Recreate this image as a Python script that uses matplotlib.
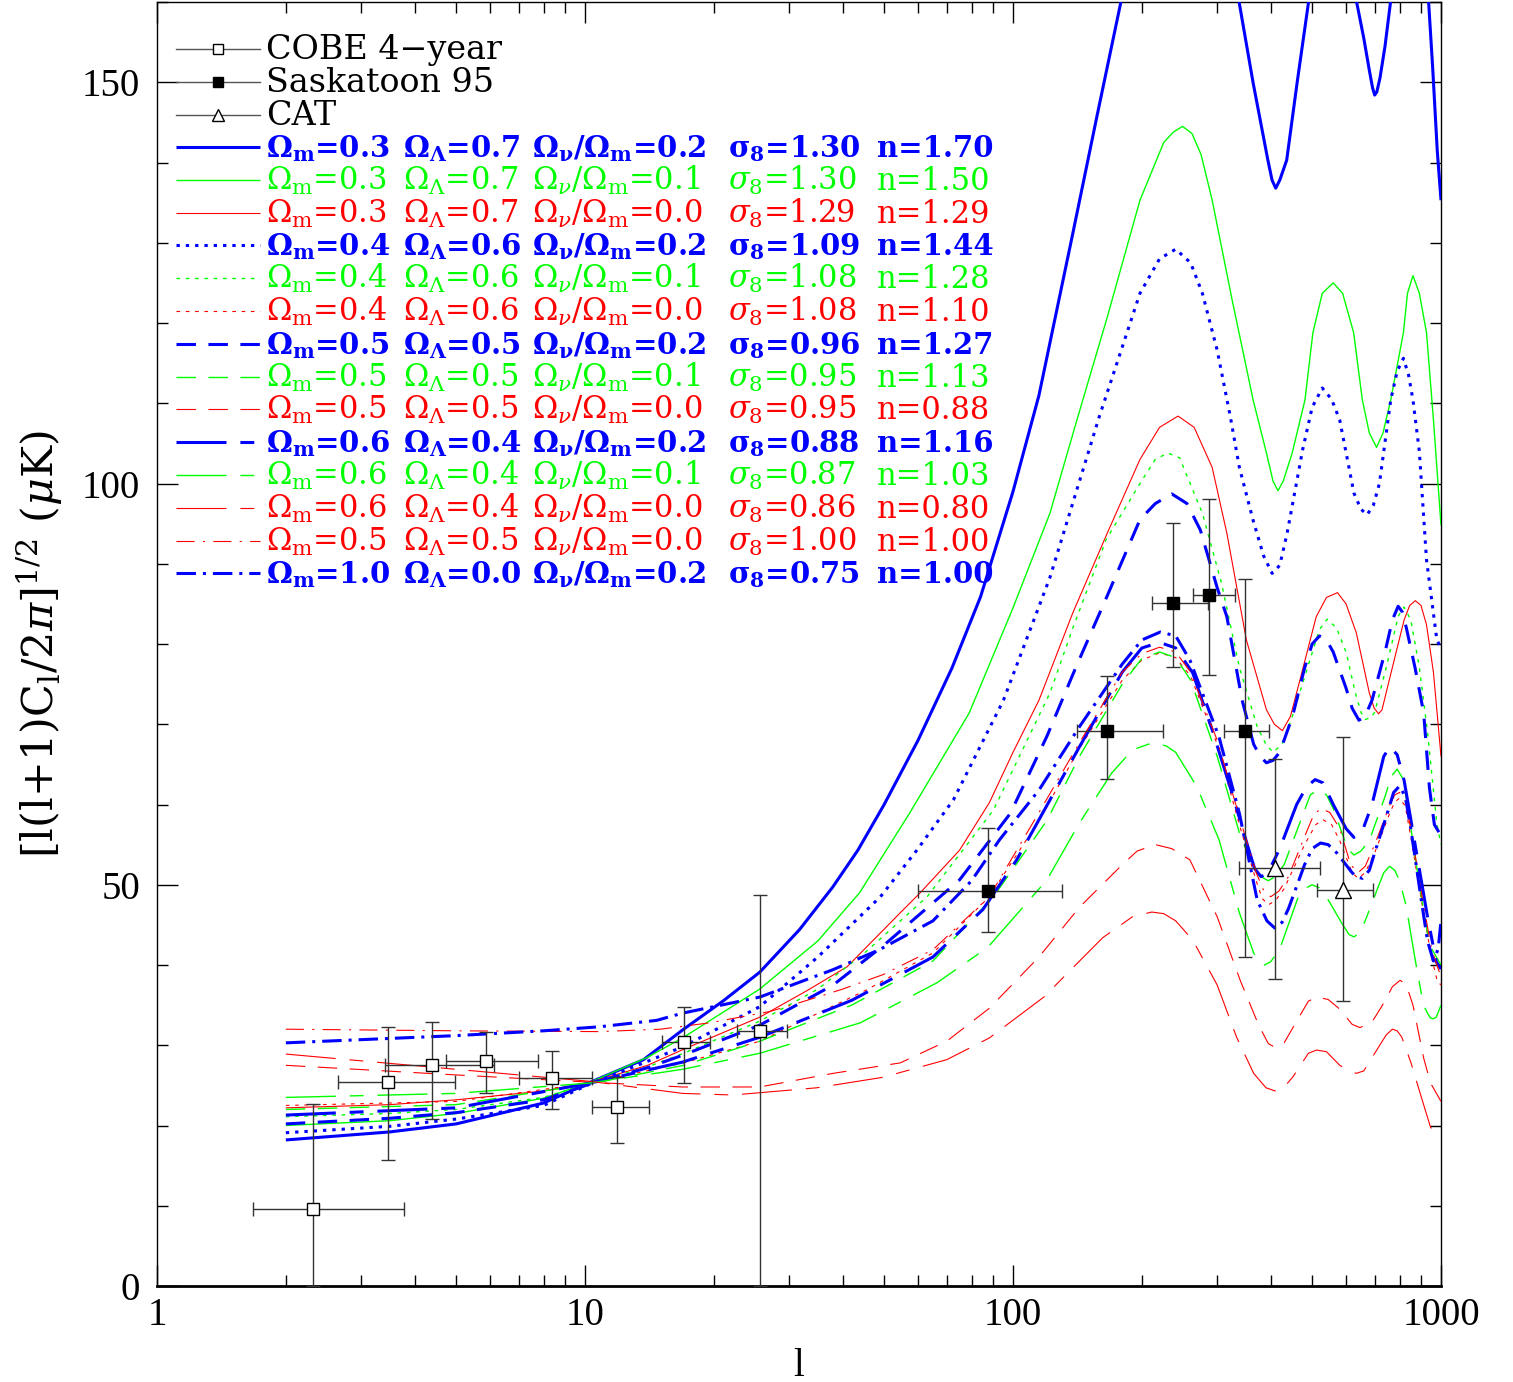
import matplotlib
matplotlib.use('Agg')
import matplotlib.pyplot as plt
from matplotlib.lines import Line2D
from matplotlib.ticker import LogLocator, NullFormatter, MultipleLocator

W, H = 1513, 1382
plt.rcParams['font.family'] = ['DejaVu Serif']
plt.rcParams['mathtext.fontset'] = 'dejavuserif'
plt.rcParams['lines.scale_dashes'] = False

# ---------------- data: COBE 4-year ----------------
cobe_l = [2.31, 3.47, 4.39, 5.87, 8.37, 11.9, 17.0, 25.6]
cobe_v = [9.6, 25.4, 27.5, 28.0, 25.9, 22.3, 30.4, 31.8]
cobe_llo = [1.68, 2.65, 3.41, 4.73, 7.01, 10.4, 15.1, 22.6]
cobe_lhi = [3.78, 4.97, 6.13, 7.77, 10.4, 14.1, 19.6, 29.6]
cobe_vlo = [0.0, 15.7, 20.8, 24.0, 22.1, 17.8, 25.3, 0.0]
cobe_vhi = [22.7, 32.3, 32.9, 31.7, 29.3, 26.0, 34.8, 48.7]

# ---------------- data: Saskatoon 95 ----------------
sask_l = [87.4, 165.8, 236.6, 287.0, 348.6]
sask_v = [49.2, 69.2, 85.1, 86.1, 69.2]
sask_llo = [59.9, 141.0, 211.0, 263.6, 311.0]
sask_lhi = [130.0, 224.0, 285.8, 330.0, 396.0]
sask_vlo = [44.1, 63.2, 77.1, 76.1, 41.0]
sask_vhi = [57.1, 76.0, 95.1, 98.1, 88.1]

# ---------------- data: CAT ----------------
cat_l = [409.6, 590.0]
cat_v = [52.1, 49.3]
cat_llo = [337.0, 513.0]
cat_lhi = [521.0, 693.0]
cat_vlo = [38.3, 35.5]
cat_vhi = [65.7, 68.4]

# ---------------- model curves ----------------
# 1 blue solid: Om=0.3 nu=0.2
l_bs = [2, 3.5, 5, 8, 10.3, 13.7, 17, 21, 25.6, 31.7, 37.9, 43.4, 50, 60, 72, 84, 100, 115, 138, 157, 179, 200, 240,
        280, 320, 337, 364, 394, 403, 411, 420, 436, 461, 491, 540, 600, 634, 660, 680, 692, 700, 708, 720, 740, 763,
        850, 935, 956, 980, 1000]
v_bs = [18.2, 19.2, 20.2, 22.8, 25.4, 28.2, 32.0, 35.5, 39.1, 44.4, 49.7, 54.3, 60.0, 68.0, 77.0, 85.9, 99.0, 111.0,
        131.2, 145.7, 160.2, 172, 184, 182, 166, 160.2, 149.9, 140.3, 137.8, 136.8, 137.8, 140.3, 149.9, 160.2, 178,
        178, 160.2, 155.5, 151.5, 149.3, 148.4, 148.8, 150.5, 154.5, 160.2, 180, 160.2, 151.9, 141.5, 135.3]
# 2 green solid: Om=0.3 nu=0.1
l_gs = [2, 3.5, 5, 8, 10.3, 14, 17, 25.6, 35, 43.8, 57.3, 79, 100, 122, 141, 166, 198, 225, 237, 249, 262, 275, 292,
        325, 364, 391, 405, 416, 428, 449, 481, 502, 528, 560, 589, 625, 655, 680, 707, 732, 763, 817, 835, 860, 890,
        925, 960, 1000]
v_gs = [20.0, 20.6, 21.5, 23.4, 25.4, 28.5, 31.0, 37.0, 43.0, 49.0, 58.9, 71.4, 84.5, 96.3, 107.9, 120.7, 135.3,
        142.5, 143.8, 144.5, 143.6, 141.0, 135.3, 122.9, 110.4, 103.8, 100.3, 99.1, 100.3, 103.8, 110.4, 118.8, 123.7,
        125.0, 123.7, 118.8, 110.4, 106.3, 104.5, 106.3, 110.4, 118.8, 123.7, 125.9, 123.7, 118.8, 108.0, 94.8]
# 3 red solid: Om=0.3 nu=0.0
l_rs = [2, 3.5, 5, 8, 10.3, 14, 17, 25.6, 33, 41, 54.5, 60.7, 75, 88, 100, 115, 138, 166, 198, 220, 243, 265, 292,
        316, 351, 391, 408, 426, 445, 466, 511, 540, 573, 600, 634, 680, 698, 715, 728, 770, 820, 845, 871, 898, 925,
        960, 1000]
v_rs = [22.2, 22.6, 23.2, 24.3, 25.4, 27.5, 29.5, 33.5, 36.8, 39.8, 46.5, 49.0, 54.3, 60.2, 66.5, 73.0, 83.9, 93.8,
        103.0, 107.0, 108.4, 107.0, 102.0, 93.8, 80.5, 71.8, 70.0, 69.2, 71.0, 75.1, 83.4, 85.8, 86.4, 85.0, 81.4,
        73.9, 72.0, 71.3, 71.8, 77.1, 83.0, 84.8, 85.4, 84.8, 82.4, 76.5, 66.0]
# 4 blue dotted: Om=0.4 nu=0.2
l_bd = [2, 3.5, 5, 8, 10.3, 14, 16.9, 25.6, 35, 49, 59.6, 72.6, 95, 122, 159, 198, 220, 240, 260, 277, 300, 322, 338,
        364, 385, 403, 420, 437, 475, 500, 528, 555, 580, 626, 650, 672, 695, 718, 763, 790, 817, 840, 860, 890, 925,
        978, 1000]
v_bd = [19.1, 19.9, 20.8, 22.5, 25.2, 28.0, 29.8, 34.8, 41.0, 48.5, 54.3, 60.6, 73.0, 88.3, 108.3, 123.7, 128.0,
        129.2, 127.5, 123.7, 116.6, 108.3, 102.0, 95.4, 91.0, 88.8, 89.8, 93.8, 104.2, 109.5, 111.9, 110.5, 107.9,
        98.8, 96.8, 96.1, 97.3, 100.0, 110.4, 114.0, 115.6, 113.5, 110.4, 104.0, 90.5, 80.5, 79.5]
# 5 green dotted: Om=0.4 nu=0.1
l_gd = [2, 3.5, 5, 8, 10.3, 14, 17, 25.6, 35, 45, 63, 90, 122, 138, 165, 198, 215, 230, 245, 277, 307, 338, 372, 390,
        405, 425, 449, 488, 520, 542, 570, 601, 630, 650, 665, 685, 700, 745, 795, 820, 850, 890, 930, 978, 1000]
v_gd = [21.1, 21.5, 22.0, 23.5, 25.3, 27.3, 29.0, 33.0, 37.0, 41.5, 48.5, 59.3, 73.9, 82.0, 93.0, 100.0, 103.0, 103.8,
        103.2, 96.3, 87.6, 77.1, 69.7, 67.5, 66.5, 67.5, 70.9, 77.1, 81.8, 83.1, 82.0, 78.9, 74.0, 71.5, 70.6, 70.8,
        71.5, 77.1, 83.5, 84.6, 83.0, 77.1, 69.0, 57.6, 55.0]
# 6 red dotted: Om=0.4 nu=0.0
l_rd = [2, 5, 10.3, 17, 25.6, 45.5, 65, 88, 115, 143, 180, 200, 220, 240, 260, 300, 340, 370, 382, 395, 410, 430, 480,
        510, 530, 555, 580, 620, 640, 665, 700, 760, 780, 800, 825, 850, 900, 950, 980, 1000]
v_rd = [22.5, 23.0, 25.3, 27.8, 30.5, 36.9, 41.5, 48.5, 58.0, 67.0, 75.5, 78.0, 78.9, 78.3, 76.0, 67.5, 57.0, 50.5,
        48.3, 47.5, 48.0, 49.5, 55.0, 57.5, 58.1, 57.5, 55.5, 51.5, 50.8, 51.5, 54.0, 59.0, 60.3, 60.8, 59.8, 56.0,
        48.0, 41.0, 38.0, 37.5]
# 7 blue dashed: Om=0.5 nu=0.2
l_bda = [2, 3.5, 5, 8, 10.3, 14, 17, 25.6, 38, 50, 75, 98.6, 120, 140, 166, 198, 215, 235, 255, 274, 300, 316, 343,
         365, 378, 391, 405, 420, 450, 480, 500, 520, 540, 560, 600, 620, 643, 665, 690, 740, 770, 794, 812, 830, 870,
         911, 940, 965, 990, 1000]
v_bda = [20.2, 20.9, 21.6, 23.2, 25.2, 27.2, 28.8, 32.5, 37.5, 42.5, 50.6, 58.9, 68.5, 77.0, 86.0, 95.5, 97.5, 98.7,
         97.5, 94.2, 87.0, 83.4, 73.0, 67.5, 66.0, 65.2, 65.5, 66.5, 71.0, 77.0, 80.0, 81.0, 80.5, 79.0, 74.5, 72.0,
         70.5, 71.0, 73.0, 79.0, 83.0, 84.7, 84.0, 82.0, 77.0, 71.4, 62.0, 57.5, 56.5, 57.0]
# 8 green dashed: Om=0.5 nu=0.1
l_gda = [2, 5, 10.3, 17, 25.6, 42, 65, 90, 120, 143, 180, 200, 220, 240, 260, 300, 340, 370, 380, 395, 410, 430, 470,
         495, 515, 540, 560, 605, 626, 650, 680, 740, 765, 790, 815, 840, 890, 940, 1000]
v_gda = [22.0, 22.6, 25.2, 27.5, 30.5, 35.0, 40.5, 48.5, 58.0, 66.0, 75.0, 78.2, 79.0, 78.3, 75.5, 66.0, 56.0, 51.5,
         51.0, 50.5, 51.0, 52.5, 58.0, 61.2, 61.8, 61.2, 59.5, 54.5, 53.7, 54.2, 55.5, 61.0, 63.5, 64.4, 63.2, 59.0,
         50.0, 42.5, 40.0]
# 9 red dashed: Om=0.5 nu=0.0
l_rda = [2, 5, 10.3, 16.9, 25.6, 38, 54.5, 70, 88, 115, 143, 180, 195, 215, 235, 259, 300, 340, 375, 395, 411, 430,
         460, 490, 514, 545, 580, 620, 647, 690, 730, 770, 803, 830, 860, 911, 945, 1000]
v_rda = [27.5, 26.3, 25.4, 24.8, 24.8, 26.5, 27.8, 30.5, 34.6, 41.0, 47.2, 52.5, 54.2, 55.0, 54.5, 53.1, 46.0, 38.0,
         32.5, 30.2, 29.7, 30.3, 33.0, 35.5, 36.0, 35.7, 34.5, 32.6, 32.2, 32.9, 35.0, 37.3, 38.1, 37.5, 35.0, 28.4,
         25.3, 23.0]
# 10 blue long-dash: Om=0.6 nu=0.2
l_bld = [2, 5, 10.3, 16.9, 25.6, 42, 65, 85, 102, 143, 180, 200, 220, 240, 263, 292, 325, 355, 367, 380, 395, 420,
         460, 485, 508, 530, 560, 600, 626, 655, 690, 735, 760, 790, 820, 870, 930, 975, 1000]
v_bld = [21.3, 22.2, 25.3, 27.9, 31.0, 35.6, 41.0, 46.9, 53.1, 67.2, 76.5, 79.5, 80.2, 79.5, 76.4, 69.3, 61.4, 54.5,
         52.0, 51.0, 51.6, 54.5, 60.0, 62.2, 63.1, 62.7, 60.0, 57.0, 55.9, 56.7, 60.0, 66.0, 67.2, 66.2, 63.0, 55.0,
         46.0, 40.4, 39.5]
# 11 green long-dash: Om=0.6 nu=0.1
l_gld = [2, 5, 10.3, 16.9, 25.6, 44, 66.5, 87.3, 120, 143, 170, 190, 212, 228, 240, 269, 303, 338, 365, 375, 387, 400,
         420, 464, 480, 500, 520, 540, 588, 610, 626, 645, 665, 708, 735, 758, 780, 800, 828, 872, 910, 930, 945, 960,
         975, 1000]
v_gld = [23.5, 24.0, 25.3, 27.0, 29.0, 32.8, 37.8, 42.2, 50.6, 57.7, 63.9, 66.8, 67.7, 67.3, 66.5, 62.2, 55.6, 46.5,
         41.5, 40.4, 40.0, 40.4, 42.0, 48.5, 49.5, 50.0, 49.6, 48.5, 45.1, 43.8, 43.5, 44.0, 45.5, 49.3, 51.5, 52.3,
         51.8, 50.5, 47.5, 40.4, 35.0, 34.0, 33.4, 33.3, 33.5, 35.0]
# 12 red long-dash: Om=0.6 nu=0.0
l_rld = [2, 5, 10.3, 16.9, 22.2, 34.8, 49.6, 70, 88, 118, 162, 190, 211, 225, 240, 263, 300, 333, 365, 390, 410, 430,
         450, 490, 512, 540, 580, 610, 634, 660, 700, 745, 770, 790, 810, 851, 900, 945, 975, 1000]
v_rld = [28.9, 27.0, 25.5, 24.0, 23.8, 24.7, 26.0, 28.2, 30.9, 36.0, 43.4, 46.0, 46.6, 46.4, 45.5, 43.1, 37.5, 31.0,
         26.5, 24.7, 24.3, 24.8, 26.0, 29.0, 29.4, 29.2, 27.5, 26.8, 26.5, 26.8, 29.0, 31.3, 32.0, 31.8, 31.0, 27.8,
         23.5, 19.8, 18.8, 19.0]
# 13 red dash-dot: Om=0.5 OL=0.5 nu=0.0 s8=1.00 n=1.00
l_rdd = [2, 5, 10.8, 15, 19.6, 27, 31.7, 40, 49.7, 65, 88, 115, 143, 180, 200, 220, 240, 260, 300, 340, 370, 385, 400,
         418, 440, 480, 505, 525, 550, 580, 615, 640, 665, 700, 760, 780, 800, 825, 850, 900, 950, 1000]
v_rdd = [32.0, 31.8, 31.7, 32.0, 32.8, 34.2, 35.3, 37.0, 38.8, 41.9, 48.5, 59.0, 67.7, 76.5, 78.8, 79.6, 79.0, 76.5,
         68.0, 58.0, 51.5, 49.3, 48.5, 49.2, 51.0, 56.0, 58.8, 59.5, 59.0, 57.0, 52.5, 51.5, 52.3, 55.0, 60.0, 61.2,
         61.5, 60.5, 57.0, 49.0, 42.0, 38.5]
# 14 blue dash-dot: Om=1.0 nu=0.2
l_bdd = [2, 5, 8, 10.8, 14.7, 16.9, 25.6, 37.9, 48.7, 65, 80, 93, 115, 143, 180, 200, 221, 240, 259, 303, 338, 372,
         392, 409, 425, 440, 480, 500, 523, 545, 570, 620, 635, 655, 680, 700, 750, 775, 800, 825, 850, 900, 930, 960,
         985, 1000]
v_bdd = [30.3, 31.2, 31.8, 32.3, 33.1, 34.0, 36.0, 39.4, 41.9, 45.5, 50.5, 55.6, 61.8, 69.7, 77.5, 80.5, 81.5, 81.0,
         78.0, 68.4, 58.9, 48.1, 45.5, 44.6, 45.3, 47.0, 52.5, 54.5, 55.2, 55.0, 54.0, 51.5, 51.0, 50.8, 51.8, 54.0,
         59.0, 61.5, 62.3, 61.0, 57.0, 48.0, 43.0, 40.5, 42.0, 45.5]

# legend parameter strings
om_vals = ['0.3', '0.3', '0.3', '0.4', '0.4', '0.4', '0.5', '0.5', '0.5', '0.6', '0.6', '0.6', '0.5', '1.0']
ol_vals = ['0.7', '0.7', '0.7', '0.6', '0.6', '0.6', '0.5', '0.5', '0.5', '0.4', '0.4', '0.4', '0.5', '0.0']
nu_vals = ['0.2', '0.1', '0.0', '0.2', '0.1', '0.0', '0.2', '0.1', '0.0', '0.2', '0.1', '0.0', '0.0', '0.2']
s8_vals = ['1.30', '1.30', '1.29', '1.09', '1.08', '1.08', '0.96', '0.95', '0.95', '0.88', '0.87', '0.86', '1.00', '0.75']
n_vals = ['1.70', '1.50', '1.29', '1.44', '1.28', '1.10', '1.27', '1.13', '0.88', '1.16', '1.03', '0.80', '1.00', '1.00']

BLUE, GREEN, RED = '#0000ff', '#00ff00', '#ff0000'
THICK, THIN = 2.2, 1.0
solid = None
dotted_thick = (0, (2.4, 4.3))
dotted_thin = (0, (2.6, 4.1))
dashed = (0, (14, 9))
longdash = (0, (36, 10, 10, 10))
dashdot_thin = (0, (13, 6, 1.5, 6))
dashdot_thick = (0, (14, 5, 2.2, 5))

curves = [
    (l_bs, v_bs, BLUE, THICK, solid, True),
    (l_gs, v_gs, GREEN, THIN, solid, False),
    (l_rs, v_rs, RED, THIN * 0.8, solid, False),
    (l_bd, v_bd, BLUE, THICK, dotted_thick, True),
    (l_gd, v_gd, GREEN, THIN, dotted_thin, False),
    (l_rd, v_rd, RED, THIN * 0.8, dotted_thin, False),
    (l_bda, v_bda, BLUE, THICK, dashed, True),
    (l_gda, v_gda, GREEN, THIN, dashed, False),
    (l_rda, v_rda, RED, THIN * 0.8, dashed, False),
    (l_bld, v_bld, BLUE, THICK, longdash, True),
    (l_gld, v_gld, GREEN, THIN, longdash, False),
    (l_rld, v_rld, RED, THIN * 0.8, longdash, False),
    (l_rdd, v_rdd, RED, THIN * 0.8, dashdot_thin, False),
    (l_bdd, v_bdd, BLUE, THICK, dashdot_thick, True),
]

fig = plt.figure(figsize=(W / 100, H / 100), dpi=100)
ax = fig.add_axes([157 / W, 1 - 1286 / H, (1441 - 157) / W, (1286 - 2) / H])

for lv, vv, col, lw, ls, bold in curves:
    kw = dict(color=col, lw=lw, solid_capstyle='butt', dash_capstyle='butt', solid_joinstyle='round', zorder=3)
    if ls is not None:
        kw['linestyle'] = ls
    ax.plot(lv, vv, **kw)


def errs(c, lo, hi):
    return [[ci - a for ci, a in zip(c, lo)], [b - ci for ci, b in zip(c, hi)]]


EC = '#333333'
ax.errorbar(cobe_l, cobe_v, xerr=errs(cobe_l, cobe_llo, cobe_lhi), yerr=errs(cobe_v, cobe_vlo, cobe_vhi),
            fmt='s', mfc='white', mec='black', ms=9, mew=1.0, ecolor=EC, elinewidth=1.0, capsize=5, capthick=1.0,
            zorder=5)
ax.errorbar(sask_l, sask_v, xerr=errs(sask_l, sask_llo, sask_lhi), yerr=errs(sask_v, sask_vlo, sask_vhi),
            fmt='s', mfc='black', mec='black', ms=9, ecolor=EC, elinewidth=1.0, capsize=5, capthick=1.0, zorder=5)
ax.errorbar(cat_l, cat_v, xerr=errs(cat_l, cat_llo, cat_lhi), yerr=errs(cat_v, cat_vlo, cat_vhi),
            fmt='^', mfc='white', mec='black', ms=11, mew=1.0, ecolor=EC, elinewidth=1.0, capsize=5, capthick=1.0,
            zorder=5)

ax.set_xscale('log')
ax.set_xlim(1, 1000)
ax.set_ylim(0, 160)
ax.set_xticks([1, 10, 100, 1000])
ax.set_xticklabels(['1', '10', '100', '1000'])
ax.xaxis.set_minor_locator(LogLocator(base=10, subs=range(2, 10)))
ax.xaxis.set_minor_formatter(NullFormatter())
ax.set_yticks([0, 50, 100, 150])
ax.yaxis.set_minor_locator(MultipleLocator(10))
ax.tick_params(which='both', direction='in', top=True, right=True, width=1.0)
ax.tick_params(which='major', length=15)
ax.tick_params(which='minor', length=8)
ax.tick_params(axis='x', which='major', pad=8)
ax.tick_params(axis='y', which='major', pad=12)
for lab in ax.get_xticklabels() + ax.get_yticklabels():
    lab.set_fontfamily('Liberation Serif')
    lab.set_fontsize(28)
for s in ['left', 'top', 'right']:
    ax.spines[s].set_linewidth(1.0)
ax.spines['bottom'].set_linewidth(2.0)

ax.set_xlabel('l', fontfamily='Liberation Serif', fontsize=28, labelpad=10)
ax.set_ylabel(r'[l(l+1)C$_\mathrm{l}$/2$\pi$]$^{1/2}$ ($\mu$K)', fontsize=31, labelpad=12)

# ---------------- legend ----------------
def fx(px):
    return px / W


def fy(py):
    return 1 - py / H


FS = 22
FSB = 21
data_rows = [('COBE 4\u2212year', 's', 'white'), ('Saskatoon 95', 's', 'black'), ('CAT', '^', 'white')]
ys_data = [49, 82, 115]
for (txt, mk, mfc), yy in zip(data_rows, ys_data):
    fig.add_artist(Line2D([fx(176), fx(260)], [fy(yy), fy(yy)], transform=fig.transFigure, color='#555555', lw=1.0))
    fig.add_artist(Line2D([fx(218)], [fy(yy)], transform=fig.transFigure, marker=mk, mfc=mfc, mec='black',
                          ms=7 if mk == 's' else 8, mew=1.0, lw=0))
    fig.text(fx(266), fy(yy + 10), txt, fontsize=24, va='baseline', ha='left', color='black')

col_x = [266, 403, 532, 728, 877]
for i, (lv, vv, col, lw, ls, bold) in enumerate(curves):
    yy = 147 + i * 32.8
    kw = dict(color=col, lw=lw, solid_capstyle='butt', dash_capstyle='butt')
    if ls is not None:
        kw['linestyle'] = ls
    fig.add_artist(Line2D([fx(176), fx(260)], [fy(yy), fy(yy)], transform=fig.transFigure, **kw))
    if bold:
        parts = [r'$\mathbf{\Omega_m}$=' + om_vals[i],
                 r'$\mathbf{\Omega_\Lambda}$=' + ol_vals[i],
                 r'$\mathbf{\Omega_\nu/\Omega_m}$=' + nu_vals[i],
                 r'$\mathbf{\sigma_8}$=' + s8_vals[i],
                 'n=' + n_vals[i]]
        fw, fs = 'bold', FSB
    else:
        parts = [r'$\Omega_\mathrm{m}$=' + om_vals[i],
                 r'$\Omega_\Lambda$=' + ol_vals[i],
                 r'$\Omega_\nu/\Omega_\mathrm{m}$=' + nu_vals[i],
                 r'$\sigma_8$=' + s8_vals[i],
                 'n=' + n_vals[i]]
        fw, fs = 'normal', FS
    for cx, p in zip(col_x, parts):
        fig.text(fx(cx), fy(yy + 10), p, fontsize=fs, va='baseline', ha='left', color=col, fontweight=fw)

fig.savefig('out.png', dpi=100)
